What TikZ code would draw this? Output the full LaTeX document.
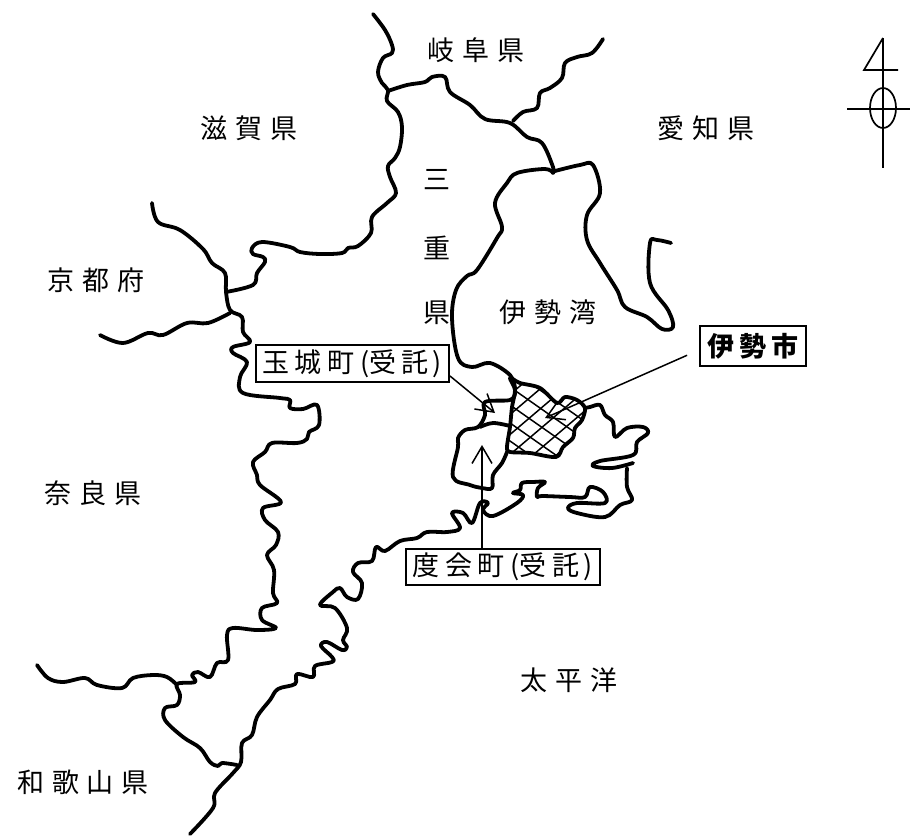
\documentclass[tikz,border=0pt]{standalone}
\usepackage{fontspec}
\usetikzlibrary{arrows.meta}
\newfontfamily\jp[LetterSpace=28]{Noto Sans CJK JP}
\newfontfamily\jpbox[LetterSpace=20]{Noto Sans CJK JP}
\newcommand{\isecoords}{(510,378)(520,383)(540,388)(557,403)(565,397)(577,400)(585,408)(582,420)(575,428)(573,438)(563,447)(556,457)(530,453)(510,452)(507,447)(510,427)(512,407)(515,390)}
\newcommand{\lp}{\kern6pt(\kern0pt}
\newcommand{\rp}{\kern4pt)\kern1pt}
\tikzset{
  border/.style={line width=3.8pt,line cap=round,line join=round},
  lab/.style={font=\jp\fontsize{27}{27}\selectfont,inner sep=0pt,text=black},
  boxlab/.style={font=\jpbox\fontsize{27}{27}\selectfont,inner sep=0pt,draw=black,line width=2pt,text=black,anchor=center},
  leader/.style={line width=1.5pt,-{Straight Barb[length=17pt,width=20pt,line width=1.5pt]}},
  hatch/.style={line width=1.5pt},
  thinl/.style={line width=1.7pt},
  smoothed/.style={smooth,tension=.6}
}
\begin{document}
\begin{tikzpicture}[x=1pt,y=-1pt]
\useasboundingbox (0,0) rectangle (910,836);
\fill[white] (0,0) rectangle (910,836);
% hatching of Ise
\begin{scope}
\clip plot[smooth cycle,tension=.5] coordinates {\isecoords};
\foreach \k in {-12,...,12} {
  \draw[hatch] (480,{420+\k*18}) -- (600,{420+\k*18+84});
  \draw[hatch] (480,{420+\k*20}) -- (600,{420+\k*20-102});
}
\end{scope}
\draw[border] plot[smooth cycle,tension=.5] coordinates {\isecoords};
% main border north
\draw[border] plot[smoothed] coordinates {(373,14)(385,30)(392,45)(392,53)(383,58)(378,72)(382,83)(388,90)(387,101)(398,112)(402,127)(400,147)(395,158)(388,166)(390,177)(396,193)(387,203)(372,217)(371,233)(358,246)(348,248)(342,253)(320,254)(300,252)(290,247)(262,242)(252,248)(253,254)(263,257)(265,262)(257,273)(253,285)(226,292)};
\draw[border] plot[smoothed] coordinates {(388,91)(407,85)(425,82)(432,77)(445,77)(450,92)(470,105)(485,119)(510,123)(527,137)(542,143)(553,167)(553,173)};
\draw[border] plot[smoothed] coordinates {(513,121)(523,112)(537,108)(540,93)(550,88)(562,78)(565,63)(577,57)(592,53)(603,39)};
% Ise bay
\draw[border] plot[smoothed] coordinates {(553,173)(545,169)(517,173)(507,183)(495,203)(502,227)(497,238)(477,270)(467,276)(456,290)(452,318)(458,358)(472,367)(490,363)(510,375)(515,388)};
\draw[border] plot[smoothed] coordinates {(555,171)(580,165)(593,165)(600,193)(587,215)(587,240)(600,263)(617,290)(625,307)(647,317)(662,329)(673,327)(668,310)(650,283)(650,243)(657,240)(671,243)};
% Tamaki and Watarai
\draw[border] plot[smoothed] coordinates {(515,393)(510,400)(485,402)(485,415)(478,427)(465,430)(458,438)(458,447)(453,477)(470,485)(482,488)(492,488)(493,475)(502,463)(507,452)};
\draw[border] plot[smoothed] coordinates {(480,427)(493,423)(510,426)};
% east coast and Shima
\draw[border] plot[smoothed] coordinates {(585,408)(590,407)(600,405)(605,415)(613,422)(615,437)(627,428)(643,427)(648,433)(637,442)(633,455)(600,461)(593,466)(612,468)(633,463)};
\draw[border] plot[smoothed] coordinates {(627,468)(627,487)(632,500)(620,505)(605,517)(577,513)(568,508)(577,503)(605,503)(603,492)(590,487)(585,497)(570,497)(542,496)(537,497)(538,488)(545,482)(533,482)(522,483)(520,490)(513,493)(523,495)(517,503)(493,516)(483,510)(488,503)(480,503)(472,523)(463,513)(452,513)(460,528)(447,532)(427,532)(417,538)(400,541)(385,551)(376,547)(372,561)(358,563)(353,572)(362,583)(358,599)(347,597)(340,588)(333,592)(320,605)(335,608)(347,628)(343,640)(347,647)(342,650)(327,642)(321,646)(332,657)(332,662)(315,666)(313,677)(297,674)(295,684)(278,689)(270,700)(257,717)(252,735)(242,743)(241,762)(233,773)(215,793)(213,808)(190,834)};
% western border
\draw[border] plot[smoothed] coordinates {(152,203)(158,222)(180,230)(203,249)(212,263)(225,273)(226,292)(230,310)(242,317)(243,332)(250,342)(233,347)(233,353)(247,362)(240,377)(243,393)(280,398)(290,400)(290,408)(303,409)(317,405)(319,425)(309,432)(307,439)(297,443)(272,443)(265,452)(253,462)(257,475)(260,485)(281,502)(263,508)(265,520)(278,532)(276,545)(267,555)(274,570)(273,593)(277,603)(262,608)(262,620)(276,628)(257,630)(233,628)(227,635)(228,660)(217,663)(210,677)(198,672)(192,675)(195,682)(177,684)(180,695)(177,705)(165,708)(165,720)(183,737)(200,748)(210,762)(218,766)(222,763)(237,765)};
\draw[border] plot[smoothed] coordinates {(37,665)(48,678)(63,682)(85,678)(97,685)(122,688)(133,678)(153,675)(167,677)(177,685)};
\draw[border] plot[smoothed] coordinates {(230,313)(208,323)(187,323)(163,335)(148,333)(123,343)(100,335)};
% labels
\node[lab] (gifu) at (476,50) {岐阜県};
\node[lab] (shiga) at (249,128) {滋賀県};
\node[lab] (aichi) at (706,128) {愛知県};
\node[lab] (mi) at (437,180) {三};
\node[lab] (e) at (437,248) {重};
\node[lab] (ken) at (437,313) {県};
\node[lab] (isewan) at (548,312) {伊勢湾};
\node[lab] (kyoto) at (96,280) {京都府};
\node[lab] (nara) at (93,493) {奈良県};
\node[lab] (waka) at (83,782) {和歌山県};
\node[lab] (pacific) at (569,680) {太平洋};
\node[boxlab,minimum width=193pt,minimum height=37pt] (tamaki) at (352.5,363.5) {玉城町\lp 受託\rp};
\node[boxlab,minimum width=194pt,minimum height=36pt] (watarai) at (503,567) {度会町\lp 受託\rp};
\node[boxlab,minimum width=106pt,minimum height=40pt,font=\jpbox\fontsize{27}{27}\selectfont\bfseries] (ise) at (753,346) {伊勢市};
% leaders
\coordinate (tamakitip) at (495,413);
\coordinate (wataraitip) at (482,445);
\coordinate (isetip) at (545,418);
\draw[leader] (tamaki.south east) ++(0,-7) -- (tamakitip);
\draw[leader] (watarai.north -| wataraitip) -- (wataraitip);
\draw[leader,shorten <=13pt] ([yshift=-4pt]ise.west) -- (isetip);
% north symbol
\coordinate (ntop) at (883,38);
\coordinate (nbot) at (883,168);
\coordinate (nl) at (864,70);
\coordinate (nr) at (898,70);
\coordinate (wl) at (847,109);
\coordinate (wr) at (910,109);
\draw[thinl] (ntop) -- (nbot);
\draw[thinl,line join=miter] (ntop) -- (nl) -- (nr);
\draw[thinl] (wl) -- (wr);
\draw[thinl] (883,108) ellipse [x radius=13,y radius=20];
\end{tikzpicture}
\end{document}
